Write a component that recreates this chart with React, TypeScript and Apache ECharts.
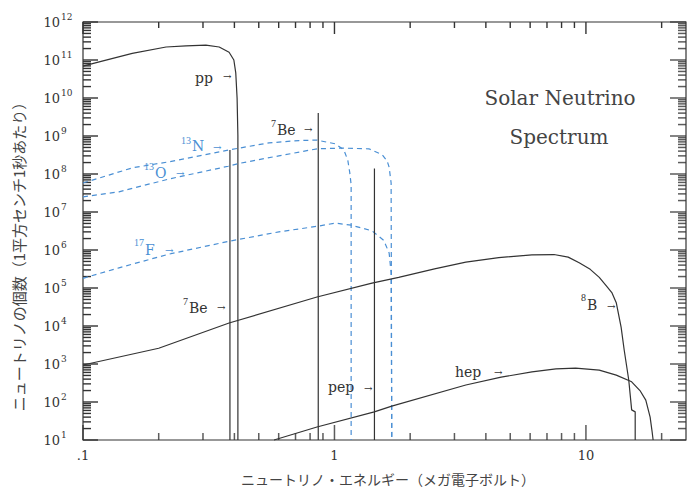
import React, { useEffect, useRef } from 'react';
import * as echarts from 'echarts';

// ---- axis ranges ----
const X_MIN = 0.1;
const X_MAX = 25;
const Y_MIN = 10;
const Y_MAX = 1e12;

// ---- tick values / labels ----
const xMajorTicks = [0.1, 1, 10];
const xTickLabels = ['.1', '1', '10'];
const xMinorTicks = [0.2, 0.3, 0.4, 0.5, 0.6, 0.7, 0.8, 0.9, 2, 3, 4, 5, 6, 7, 8, 9, 20];
const yExponents = [1, 2, 3, 4, 5, 6, 7, 8, 9, 10, 11, 12];
const minorMultipliers = [2, 3, 4, 5, 6, 7, 8, 9];

// ---- continuum spectra [energy MeV, flux] ----
const ppSpectrum = [
  [0.1, 6.9e10], [0.116, 8.9e10], [0.157, 1.5e11], [0.214, 2.2e11], [0.257, 2.35e11],
  [0.308, 2.45e11], [0.348, 2.2e11], [0.381, 1.6e11], [0.398, 1.0e11], [0.405, 4.6e10],
  [0.41, 1.0e10], [0.413, 1e9], [0.413, 10],
];
const n13Spectrum = [
  [0.1, 5.8e7], [0.157, 1.45e8], [0.22, 2.1e8], [0.381, 4.3e8], [0.549, 6.6e8],
  [0.723, 7.6e8], [0.852, 7.8e8], [1.01, 6.2e8], [1.09, 4.3e8], [1.13, 2.3e8],
  [1.15, 1.1e8], [1.165, 5.2e7], [1.165, 10],
];
const o15Spectrum = [
  [0.1, 2.5e7], [0.139, 3.4e7], [0.22, 7.4e7], [0.378, 1.6e8], [0.417, 1.9e8],
  [0.601, 3.0e8], [0.852, 4.6e8], [1.07, 4.8e8], [1.37, 4.6e8], [1.55, 3.2e8],
  [1.62, 2.2e8], [1.65, 1.5e8], [1.68, 5.8e7], [1.69, 10],
];
const f17Spectrum = [
  [0.1, 1.8e5], [0.139, 3.4e5], [0.22, 7.8e5], [0.381, 1.7e6], [0.601, 3.0e6],
  [0.852, 4.2e6], [1.01, 5.1e6], [1.165, 4.5e6], [1.41, 3.2e6], [1.57, 1.8e6],
  [1.65, 8.3e5], [1.68, 2.5e5], [1.69, 10],
];
const b8Spectrum = [
  [0.1, 940], [0.2, 2.6e3], [0.381, 1.2e4], [0.852, 5.8e4], [1.41, 1.35e5],
  [1.8, 1.9e5], [2.5, 3.2e5], [3.33, 4.8e5], [4.5, 6.3e5], [6.1, 7.4e5], [7.46, 7.6e5],
  [8.5, 6.5e5], [9.4, 4.6e5], [10.4, 3.1e5], [11.3, 1.9e5], [12.1, 1.1e5], [12.7, 7.4e4],
  [13.2, 4.1e4], [13.8, 9.3e3], [14.2, 2.3e3], [14.8, 380], [15.2, 62], [15.7, 55], [15.7, 10],
];
const hepSpectrum = [
  [0.575, 10], [0.852, 22], [1.44, 55], [1.69, 78], [3.33, 280], [4.6, 450], [6.1, 620],
  [7.6, 740], [9.1, 780], [11.3, 690], [13.2, 510], [15.2, 340], [16.4, 200], [17.3, 112],
  [18.0, 40], [18.3, 18], [18.5, 10],
];

// ---- monoenergetic lines ----
const lineNames = ['7Be (0.38)', '7Be (0.86)', 'pep'];
const lineEnergies = [0.384, 0.862, 1.442];
const lineFluxes = [4.3e8, 4.0e9, 1.4e8];

const INK = '#333333';
const BLUE = '#4a8fd4';
const SERIF = '"DejaVu Serif", "Liberation Serif", serif';
const SUPF = '"Liberation Serif", "DejaVu Serif", serif';
const CJK = '"Noto Sans CJK JP", "Noto Sans", sans-serif';

const W = 687;
const H = 488;
const GRID = { left: 83, right: 1, top: 22, bottom: 48 };

type Ann = { sup?: string; supX?: number; supY?: number; base: string; x: number; y: number; ax: number; ay: number; color: string };
const annotations: Ann[] = [
  { base: 'pp', x: 195, y: 78, ax: 223, ay: 76, color: INK },
  { sup: '7', supX: 271, supY: 123, base: 'Be', x: 277, y: 130, ax: 304, ay: 129, color: INK },
  { sup: '13', supX: 181, supY: 140, base: 'N', x: 192, y: 146, ax: 213, ay: 147, color: BLUE },
  { sup: '13', supX: 144, supY: 166, base: 'O', x: 155, y: 173, ax: 176, ay: 173, color: BLUE },
  { sup: '17', supX: 134, supY: 242, base: 'F', x: 145, y: 250, ax: 165, ay: 250, color: BLUE },
  { sup: '7', supX: 183, supY: 301, base: 'Be', x: 189, y: 308, ax: 217, ay: 307, color: INK },
  { sup: '8', supX: 581, supY: 297, base: 'B', x: 587, y: 305, ax: 607, ay: 306, color: INK },
  { base: 'pep', x: 328, y: 387, ax: 364, ay: 388, color: INK },
  { base: 'hep', x: 455, y: 372, ax: 494, ay: 372, color: INK },
];

function txt(x: number, y: number, text: string, font: string, fill: string, align = 'left', valign = 'middle', extra: any = {}) {
  return {
    type: 'text', x, y, silent: true, ...extra,
    style: { text, font, fill, textAlign: align, textVerticalAlign: valign },
  };
}

function buildGraphics() {
  const g: any[] = [];
  annotations.forEach((a) => {
    if (a.sup) g.push(txt(a.supX!, a.supY!, a.sup, `10px ${SUPF}`, a.color));
    g.push(txt(a.x, a.y, a.base, `14px ${SERIF}`, a.color));
    g.push(txt(a.ax, a.ay, '→', `10px ${SERIF}`, a.color));
  });
  g.push(txt(560, 98, 'Solar Neutrino', `20px ${SERIF}`, '#444', 'center'));
  g.push(txt(559, 137, 'Spectrum', `20px ${SERIF}`, '#444', 'center'));
  g.push(txt(388, 479, 'ニュートリノ・エネルギー（メガ電子ボルト）', `14px ${CJK}`, '#444', 'center'));
  g.push(txt(18, 253, 'ニュートリノの個数（1平方センチ1秒あたり）', `15px ${CJK}`, '#444', 'center', 'middle', { rotation: Math.PI / 2 }));
  return g;
}

const yMajorValues = yExponents.map((e) => Math.pow(10, e));
const yMinorValues: number[] = [];
yExponents.forEach((e) => {
  if (e < 12) minorMultipliers.forEach((m) => yMinorValues.push(m * Math.pow(10, e)));
});

function curve(name: string, data: any[], color: string, dashed: boolean, width = 1.2) {
  return {
    type: 'line', name, data, symbol: 'none', silent: true, smooth: false, clip: false,
    lineStyle: { color, width, type: dashed ? [5, 4] : 'solid' }, z: 3,
  };
}

export default function App() {
  const ref = useRef<HTMLDivElement>(null);
  useEffect(() => {
    const chart = echarts.init(ref.current!, null, { renderer: 'svg' });
    const series: any[] = [
      curve('pp', ppSpectrum, INK, false),
      curve('13N', n13Spectrum, BLUE, true),
      curve('15O', o15Spectrum, BLUE, true),
      curve('17F', f17Spectrum, BLUE, true),
      curve('8B', b8Spectrum, INK, false),
      curve('hep', hepSpectrum, INK, false),
      ...lineEnergies.map((e, i) => curve(lineNames[i], [[e, Y_MIN], [e, lineFluxes[i]]], INK, false)),
      // method A (bottom): scatter rect, plain options
      { type: 'scatter', data: xMajorTicks.map((v) => [v, Y_MIN]), symbol: 'rect', symbolSize: [1.5, 15], symbolOffset: [0, -7.5], itemStyle: { color: INK } },
      { type: 'scatter', data: xMinorTicks.map((v) => [v, Y_MIN]), symbol: 'rect', symbolSize: [1.5, 7], symbolOffset: [0, -3.5], itemStyle: { color: INK } },
      // method B (top): custom, single rect per item (no group)
      {
        type: 'custom', data: [...xMajorTicks.map((v) => [v, Y_MAX, 12]), ...xMinorTicks.map((v) => [v, Y_MAX, 6])],
        renderItem: (_p: any, api: any) => {
          const c = api.coord([api.value(0), Y_MAX]);
          return { type: 'rect', shape: { x: c[0] - 0.7, y: c[1], width: 1.4, height: api.value(2) }, style: { fill: INK } };
        },
      },
      // method C (left): custom single rect per item
      {
        type: 'custom', data: [...yMajorValues.map((v) => [X_MIN, v, 15]), ...yMinorValues.map((v) => [X_MIN, v, 8])],
        renderItem: (_p: any, api: any) => {
          const c = api.coord([X_MIN, api.value(1)]);
          return { type: 'rect', shape: { x: c[0], y: c[1] - 0.7, width: api.value(2), height: 1.4 }, style: { fill: INK } };
        },
      },
      // method D (right): scatter rect
      { type: 'scatter', data: yMajorValues.map((v) => [X_MAX, v]), symbol: 'rect', symbolSize: [16, 1.5], symbolOffset: [-8, 0], itemStyle: { color: INK } },
      { type: 'scatter', data: yMinorValues.map((v) => [X_MAX, v]), symbol: 'rect', symbolSize: [8, 1.5], symbolOffset: [-4, 0], itemStyle: { color: INK } },
      {
        type: 'custom', name: 'xlabels', data: xMajorTicks.map((v, i) => [v, Y_MIN, i]), silent: true, clip: false, z: 10,
        encode: { x: 0, y: 1 },
        renderItem: (_p: any, api: any) => {
          const b = api.coord([api.value(0), Y_MIN]);
          return txt(b[0], b[1] + 9, xTickLabels[api.value(2)], `13px ${SERIF}`, INK, 'center', 'top');
        },
      },
      {
        type: 'custom', name: 'ylabels', data: yExponents.map((e, i) => [X_MIN, yMajorValues[i], e]), silent: true, clip: false, z: 10,
        encode: { x: 0, y: 1 },
        renderItem: (_p: any, api: any) => {
          const l = api.coord([X_MIN, api.value(1)]);
          return {
            type: 'group',
            children: [
              txt(l[0] - 23, l[1], '10', `13px ${SERIF}`, INK, 'right', 'middle'),
              txt(l[0] - 22, l[1] - 5, String(api.value(2)), `9px ${SERIF}`, INK, 'left', 'middle'),
            ],
          };
        },
      },
    ];
    chart.setOption({
      animation: false,
      grid: { ...GRID, show: true, borderColor: INK, borderWidth: 1.2 },
      xAxis: {
        type: 'log', logBase: 10, min: X_MIN, max: X_MAX,
        axisLine: { show: false }, axisTick: { show: false }, axisLabel: { show: false }, splitLine: { show: false },
      },
      yAxis: {
        type: 'log', logBase: 10, min: Y_MIN, max: Y_MAX,
        axisLine: { show: false }, axisTick: { show: false }, axisLabel: { show: false }, splitLine: { show: false },
      },
      graphic: buildGraphics(),
      series,
    });
    return () => chart.dispose();
  }, []);
  return <div ref={ref} style={{ position: 'fixed', left: 0, top: 0, width: W, height: H, background: '#fff' }} />;
}
